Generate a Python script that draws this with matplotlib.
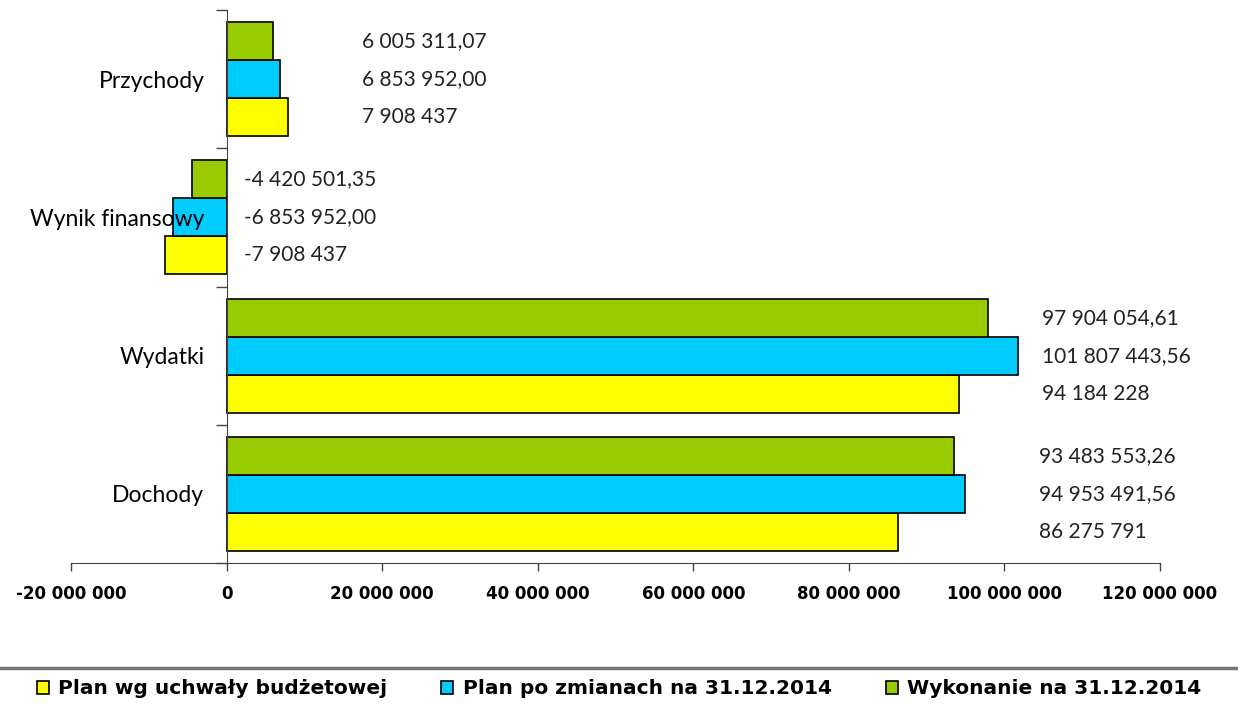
import numpy as np
import matplotlib.pyplot as plt
from matplotlib.lines import Line2D

plt.rcParams['font.family'] = ['Lato', 'DejaVu Sans']

categories = ['Dochody', 'Wydatki', 'Wynik finansowy', 'Przychody']
plan_uchwala = [86275791, 94184228, -7908437, 7908437]
plan_zmiany = [94953491.56, 101807443.56, -6853952.00, 6853952.00]
wykonanie = [93483553.26, 97904054.61, -4420501.35, 6005311.07]

lab_uchwala = ['86 275 791', '94 184 228', '-7 908 437', '7 908 437']
lab_zmiany = ['94 953 491,56', '101 807 443,56', '-6 853 952,00', '6 853 952,00']
lab_wykonanie = ['93 483 553,26', '97 904 054,61', '-4 420 501,35', '6 005 311,07']

series = [
    ('Plan wg uchwały budżetowej', plan_uchwala, lab_uchwala, '#ffff00'),
    ('Plan po zmianach na 31.12.2014', plan_zmiany, lab_zmiany, '#00ccff'),
    ('Wykonanie na 31.12.2014', wykonanie, lab_wykonanie, '#99cc00'),
]

fig = plt.figure(figsize=(12.38, 7.08), dpi=100)
ax = fig.add_axes([71 / 1238, 1 - 563 / 708, (1160 - 71) / 1238, (563 - 10) / 708])

y = np.arange(len(categories))
h = 0.275
cat_max = np.max([plan_uchwala, plan_zmiany, wykonanie], axis=0)
for k, (name, vals, labs, col) in enumerate(series):
    pos = y + (k - 1) * h
    ax.barh(pos, vals, height=h, color=col, edgecolor='black', linewidth=1.2, label=name)
    for i, (p, v, t) in enumerate(zip(pos, vals, labs)):
        # label column to the right of each group
        if cat_max[i] < 0:
            x = 2.3e6
        elif cat_max[i] < 2e7:
            x = cat_max[i] + 9.5e6
        else:
            x = max(cat_max[i] + 3e6, 1.045e8)
        ax.text(x, p, t, va='center', ha='left', fontsize=15, color='#222222')

ax.set_xlim(-2e7, 1.2e8)
ax.set_ylim(-0.5, 3.5)
xt = np.arange(-2e7, 1.21e8, 2e7)
ax.set_xticks(xt)
ax.set_xticklabels(['{:,.0f}'.format(v).replace(',', ' ') for v in xt],
                   fontsize=12, fontweight='bold', family='DejaVu Sans')
ax.tick_params(axis='x', direction='out', length=6, width=1, pad=10, color='#444444')

ax.set_yticks(np.arange(-0.5, 3.6, 1))
ax.set_yticklabels([])
ax.set_yticks(y, minor=True)
ax.set_yticklabels(categories, minor=True)
ax.tick_params(axis='y', which='major', direction='out', length=8, width=1, color='#444444')
ax.tick_params(axis='y', which='minor', length=0, pad=16, labelsize=16.5)

ax.spines['left'].set_position(('data', 0))
ax.spines['left'].set_color('#444444')
ax.spines['bottom'].set_color('#444444')
ax.spines['top'].set_visible(False)
ax.spines['right'].set_visible(False)

fig.add_artist(Line2D([0, 1], [1 - 668 / 708, 1 - 668 / 708], color='#777777', linewidth=2.5))
fig.legend(loc='center', bbox_to_anchor=(0.5, 1 - 689 / 708), ncol=3, frameon=False,
           prop={'weight': 'bold', 'size': 14.5, 'family': 'DejaVu Sans'},
           handlelength=0.6, handleheight=0.6, columnspacing=2.7, handletextpad=0.45)

fig.savefig('out.png', dpi=100)
